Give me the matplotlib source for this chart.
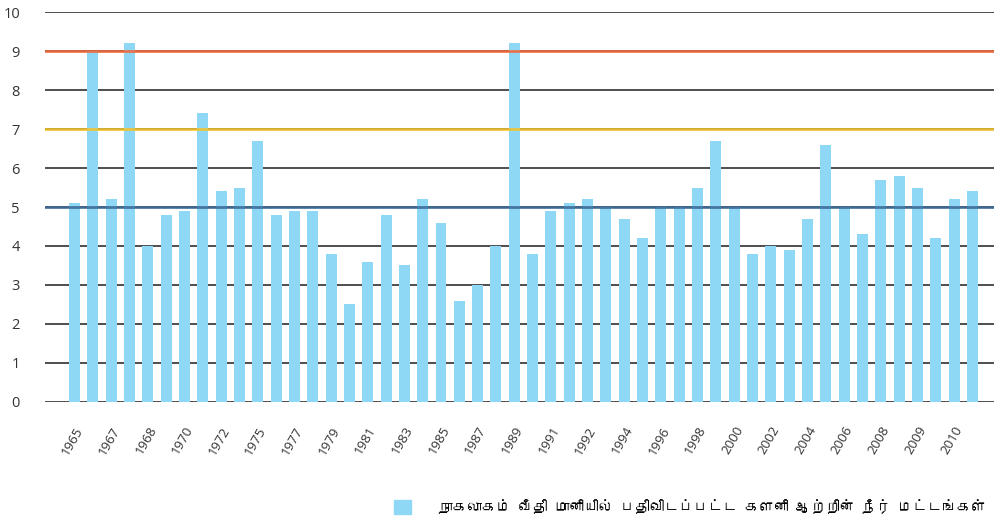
import matplotlib
matplotlib.use("Agg")
import matplotlib.pyplot as plt
from matplotlib import font_manager
from matplotlib.patches import Patch
from fontTools.ttLib import TTFont

# Water levels (m) recorded at the Nagalagam Street gauge, one bar per record
niveaux = [5.1, 9.0, 5.2, 9.2, 4.0, 4.8, 4.9, 7.4, 5.4, 5.5,
           6.7, 4.8, 4.9, 4.9, 3.8, 2.5, 3.6, 4.8, 3.5, 5.2,
           4.6, 2.6, 3.0, 4.0, 9.2, 3.8, 4.9, 5.1, 5.2, 5.0,
           4.7, 4.2, 5.0, 5.0, 5.5, 6.7, 5.0, 3.8, 4.0, 3.9,
           4.7, 6.6, 5.0, 4.3, 5.7, 5.8, 5.5, 4.2, 5.2, 5.4]
# Year labels, shown under every second bar
annees = ["1965", "1967", "1968", "1970", "1972", "1975", "1977", "1979",
          "1981", "1983", "1985", "1987", "1989", "1991", "1992", "1994",
          "1996", "1998", "2000", "2002", "2004", "2006", "2008", "2009", "2010"]
# Alert / minor flood / major flood levels
seuils = [5, 7, 9]
couleurs_seuils = ["#3d6c98", "#f2c12e", "#f06a3c"]
legende = "நாகலாகம் வீதி மானியில் பதிவிடப்பட்ட களனி ஆற்றின் நீர் மட்டங்கள்"


# Look for an installed font that has Tamil glyphs
def police_tamoule():
    for f in font_manager.fontManager.ttflist:
        try:
            cmap = TTFont(f.fname, fontNumber=0, lazy=True).getBestCmap()
        except Exception:
            continue
        if cmap and 0x0BA8 in cmap and 0x0B95 in cmap:
            return f.name
    return None


tamil = police_tamoule()
familles = ["Open Sans", "DejaVu Sans"]
if tamil:
    familles = [tamil] + familles
plt.rcParams["font.family"] = ["Open Sans", "DejaVu Sans"]

fig = plt.figure(figsize=(9.95, 5.23), dpi=100)
ax = fig.add_axes([0.0452, 0.2314, 0.9548, 0.7456])

x = range(len(niveaux))
ax.bar(x, niveaux, width=0.6, color="#8ed7f5", zorder=2)

for s, c in zip(seuils, couleurs_seuils):
    ax.axhline(s, color=c, lw=2, alpha=0.9, zorder=3)

ax.set_ylim(0, 10)
ax.set_xlim(-1.61, len(niveaux) - 1 + 1.23)
ax.set_yticks(range(11))
ax.yaxis.grid(True, color="#1e1e1e", lw=1.1, zorder=0)
ax.set_axisbelow(True)
for sp in ax.spines.values():
    sp.set_visible(False)
ax.tick_params(axis="y", length=0, labelsize=10.5, labelcolor="#333333", pad=18)
ax.tick_params(axis="x", length=0, labelsize=9.5, labelcolor="#333333", pad=16)
ax.set_xticks(range(0, len(niveaux), 2))
ax.set_xticklabels(annees, rotation=60, ha="right", rotation_mode="anchor")

fig.legend(handles=[Patch(color="#8ed7f5")], labels=[legende],
           loc="lower right", bbox_to_anchor=(1.0, 0.0), frameon=False,
           borderaxespad=0.2, handlelength=1.1, handleheight=1.1,
           handletextpad=1.9,
           prop={"family": familles, "style": "italic", "size": 10.5})

fig.savefig("out.png", dpi=100)
